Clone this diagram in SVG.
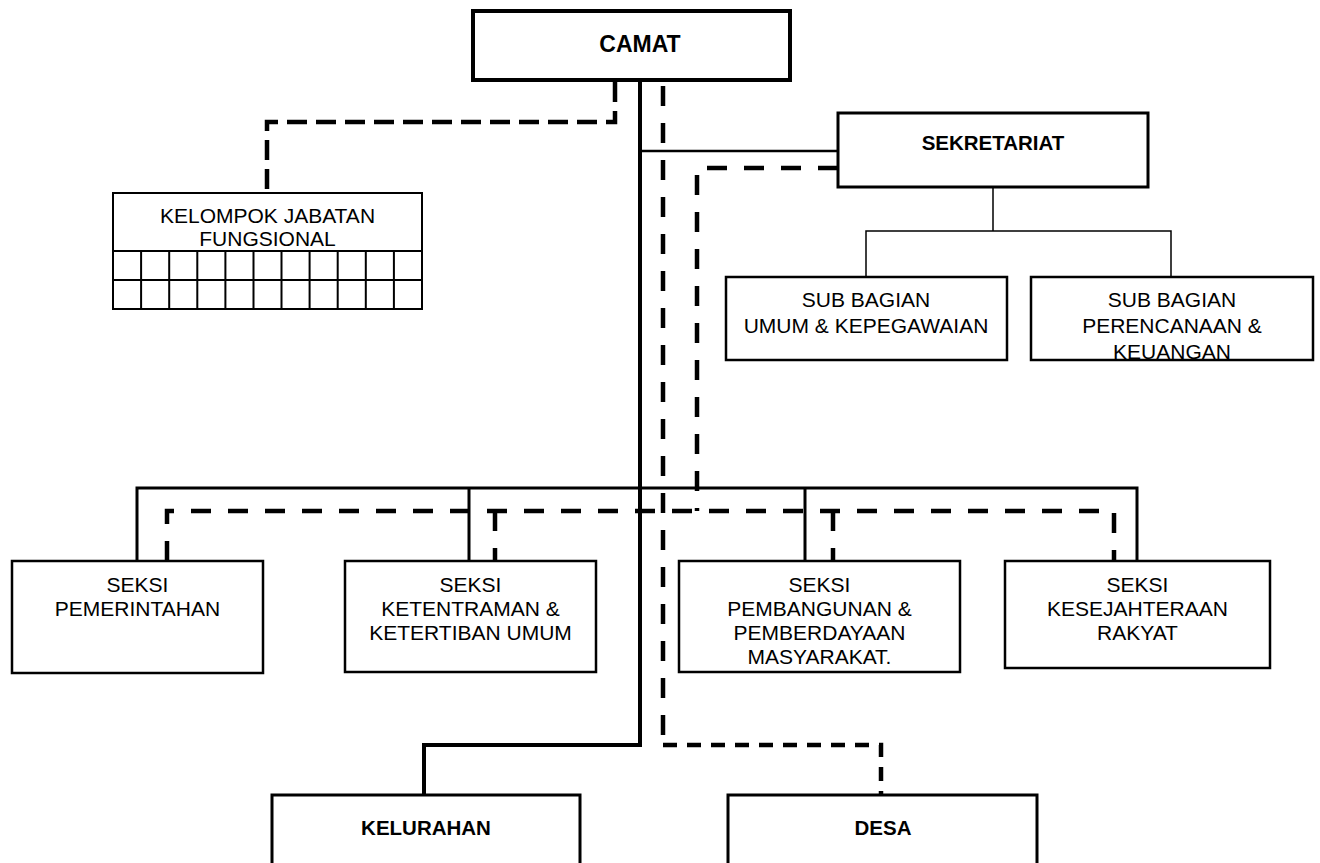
<svg xmlns="http://www.w3.org/2000/svg" width="1320" height="863" viewBox="0 0 1320 863">
<style>
  .box { fill: #fff; stroke: #000; }
  .t { font-family: "Liberation Sans", Arial, sans-serif; font-size: 21px; fill: #000; text-anchor: middle; }
  .b { font-weight: bold; font-size: 20.5px; }
  .solid { fill: none; stroke: #000; }
  .dash { fill: none; stroke: #000; stroke-width: 4.5; stroke-dasharray: 20 17; }
  .dash2 { fill: none; stroke: #000; stroke-width: 4.5; stroke-dasharray: 20 9; }
  .dash3 { fill: none; stroke: #000; stroke-width: 4.5; stroke-dasharray: 14 10; }
  .grid { stroke: #000; stroke-width: 2; fill: none; }
</style>
<rect width="1320" height="863" fill="#fff"/>
<g id="connectors">
  <path class="solid" stroke-width="4" d="M640,80 V745 H424 V795"/>
  <path class="solid" stroke-width="2.5" d="M640,151 H838"/>
  <path class="solid" stroke-width="3" d="M137,561 V488 H1137 V561 M469,488 V561 M805,488 V561"/>
  <path class="solid" stroke-width="1.5" d="M993,187 V231 M866,277 V231 H1171 V277"/>
  <path class="dash2" d="M615,82 V122 H267 V193"/>
  <path class="dash" d="M663,86 V745"/>
  <path class="dash3" d="M663,745 H881 V795"/>
  <path class="dash" d="M838,168 H697 V511"/>
  <path class="dash" d="M167,561 V511 H1114 V561 M495,511 V561 M833,511 V561"/>
</g>
<g id="camat">
  <rect class="box" x="473" y="11" width="317" height="69" stroke-width="4"/>
  <text class="t b" x="640" y="52" style="font-size:23px">CAMAT</text>
</g>
<g id="sekretariat">
  <rect class="box" x="838" y="113" width="310" height="74" stroke-width="3"/>
  <text class="t b" x="993" y="150">SEKRETARIAT</text>
</g>
<g id="kelompok-jabatan-fungsional">
  <rect class="box" x="113" y="193" width="309" height="116" stroke-width="2"/>
  <text class="t" x="267.5" y="223">KELOMPOK JABATAN</text>
  <text class="t" x="267.5" y="246">FUNGSIONAL</text>
  <path class="grid" d="M113,251 H422 M113,280 H422 M141.1,251 V309 M169.2,251 V309 M197.3,251 V309 M225.4,251 V309 M253.5,251 V309 M281.5,251 V309 M309.6,251 V309 M337.7,251 V309 M365.8,251 V309 M393.9,251 V309"/>
</g>
<g id="sub-bagian-umum">
  <rect class="box" x="726" y="277" width="281" height="83" stroke-width="2.5"/>
  <text class="t" x="866" y="307">SUB BAGIAN</text>
  <text class="t" x="866" y="333">UMUM &amp; KEPEGAWAIAN</text>
</g>
<g id="sub-bagian-perencanaan">
  <text class="t" x="1172" y="307">SUB BAGIAN</text>
  <text class="t" x="1172" y="333">PERENCANAAN &amp;</text>
  <text class="t" x="1172" y="359">KEUANGAN</text>
  <rect x="1031" y="277" width="282" height="83" fill="none" stroke="#000" stroke-width="2.5"/>
</g>
<g id="seksi-pemerintahan">
  <rect class="box" x="12" y="561" width="251" height="112" stroke-width="2.5"/>
  <text class="t" x="137.5" y="592">SEKSI</text>
  <text class="t" x="137.5" y="616">PEMERINTAHAN</text>
</g>
<g id="seksi-ketentraman">
  <rect class="box" x="345" y="561" width="251" height="111" stroke-width="2.5"/>
  <text class="t" x="470.5" y="592">SEKSI</text>
  <text class="t" x="470.5" y="616">KETENTRAMAN &amp;</text>
  <text class="t" x="470.5" y="640">KETERTIBAN UMUM</text>
</g>
<g id="seksi-pembangunan">
  <rect class="box" x="679" y="561" width="281" height="111" stroke-width="2.5"/>
  <text class="t" x="819.5" y="592">SEKSI</text>
  <text class="t" x="819.5" y="616">PEMBANGUNAN &amp;</text>
  <text class="t" x="819.5" y="640">PEMBERDAYAAN</text>
  <text class="t" x="819.5" y="664">MASYARAKAT.</text>
</g>
<g id="seksi-kesejahteraan">
  <rect class="box" x="1005" y="561" width="265" height="107" stroke-width="2.5"/>
  <text class="t" x="1137.5" y="592">SEKSI</text>
  <text class="t" x="1137.5" y="616">KESEJAHTERAAN</text>
  <text class="t" x="1137.5" y="640">RAKYAT</text>
</g>
<g id="kelurahan">
  <rect class="box" x="272" y="795" width="308" height="90" stroke-width="3"/>
  <text class="t b" x="426" y="835">KELURAHAN</text>
</g>
<g id="desa">
  <rect class="box" x="728" y="795" width="309" height="90" stroke-width="3"/>
  <text class="t b" x="883" y="835">DESA</text>
</g>
</svg>
